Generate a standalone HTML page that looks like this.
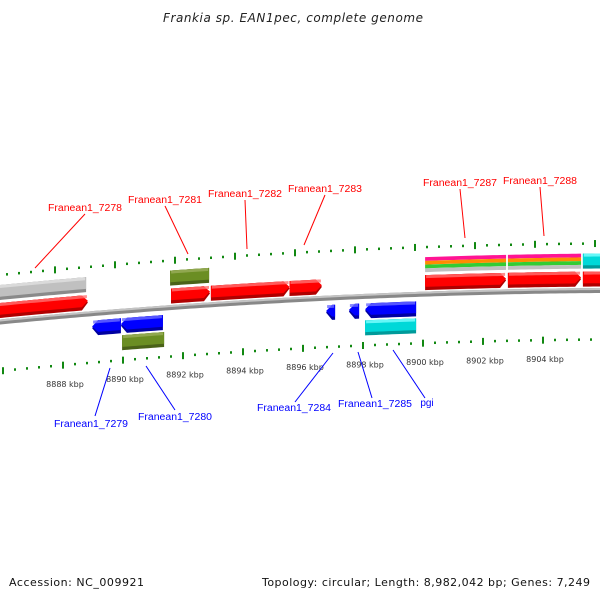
<!DOCTYPE html>
<html><head><meta charset="utf-8"><style>
html,body{margin:0;padding:0;background:#fff;}
svg{display:block;}
</style></head><body>
<svg id="chart" width="600" height="600" viewBox="0 0 600 600" xmlns="http://www.w3.org/2000/svg">
<defs>
<linearGradient id="gBack" x1="0" y1="0" x2="0" y2="1"><stop offset="0" stop-color="#c8c8c8"/><stop offset="0.5" stop-color="#999"/><stop offset="1" stop-color="#555"/></linearGradient>
</defs>
<text x="293" y="22" text-anchor="middle" font-family="DejaVu Sans, sans-serif" font-style="italic" font-size="12" fill="#222" textLength="260">Frankia sp. EAN1pec, complete genome</text>
<g id="ticks"></g>
<path id="backbone" fill="none" stroke="#888" stroke-width="5"/>
<path id="backbone-hi" fill="none" stroke="#c4c4c4" stroke-width="2"/>
<g id="genes"></g>
<g id="labels"></g>
<text x="9" y="586" font-family="DejaVu Sans, sans-serif" font-size="11" fill="#111" textLength="135">Accession: NC_009921</text>
<text x="262" y="586" font-family="DejaVu Sans, sans-serif" font-size="11" fill="#111" textLength="328">Topology: circular; Length: 8,982,042 bp; Genes: 7,249</text>
</svg>
<script>
// ---- data ----
const tickStart = 8886.0, tickEnd = 8906.4;
const majorEvery = 2, minorEvery = 0.4;
const majorLabels = [8888, 8890, 8892, 8894, 8896, 8898, 8900, 8902, 8904];
// gene features: start/end kbp, strand, track, color
const geneStarts = [8885.5, 8891.6, 8892.93, 8895.55, 8900.07, 8902.83, 8905.33, 8885.5, 8891.57, 8900.07, 8902.83, 8905.33, 8888.97, 8889.93, 8896.77, 8897.53, 8898.07, 8889.97, 8898.07];
const geneEnds   = [8888.83, 8892.9, 8895.55, 8896.63, 8902.77, 8905.27, 8906.8, 8888.77, 8892.87, 8902.77, 8905.27, 8906.8, 8889.93, 8891.33, 8897.07, 8897.87, 8899.77, 8891.37, 8899.77];
const geneStrand = [1,1,1,1,1,1,1, 0,0,0,0,0, -1,-1,-1,-1,-1, 0,0];
const geneTrack  = ['u1','u1','u1','u1','u1','u1','u1','u2','u2','u2','u2','u2','l1','l1','l1','l1','l1','l2','l2'];
const geneKind   = ['red','red','red','red','red','red','red','gray','olive','multi','multi','cyan','blue','blue','blue','blue','blue','olive','cyan'];
const labelNames = ['Franean1_7278','Franean1_7281','Franean1_7282','Franean1_7283','Franean1_7287','Franean1_7288','Franean1_7279','Franean1_7280','Franean1_7284','Franean1_7285','pgi'];
const labelColor = ['#f00','#f00','#f00','#f00','#f00','#f00','#00f','#00f','#00f','#00f','#00f'];
const labelX  = [85,165,245,325,460,540,91,175,294,375,427];
const labelY  = [211,203,197,192,186,184,427,420,411,407,406];
const lineX1  = [85,165,245,325,460,540,95,175,295,372,425];
const lineY1  = [214,206,200,195,189,187,416,410,402,398,398];
const lineX2  = [35,188,247,304,465,544,110,146,333,358,393];
const lineY2  = [268,254,249,245,238,236,368,366,353,352,350];

// ---- geometry ----
const NS = 'http://www.w3.org/2000/svg';
const xScale = k => 123 + (k - 8890) * 30;
const base = x => 322 - 0.0975 * x + 7.5e-5 * x * x;
const tracks = {u1:[-19,-4], u2:[-37,-22], l1:[7,22], l2:[24,39]};
const colors = {
  red:['#ff7070','#ff0000','#b00000'], gray:['#e0e0e0','#c0c0c0','#8a8a8a'],
  olive:['#9aae5a','#6b8e23','#4a6218'], blue:['#6a6aff','#0000ff','#0000a0'],
  cyan:['#80ffff','#00d8d8','#009a9a']
};
const svg = document.getElementById('chart');
function mk(tag, attrs, parent){ const e=document.createElementNS(NS,tag); for(const k in attrs) e.setAttribute(k,attrs[k]); parent.appendChild(e); return e; }

// backbone
let d=''; for(let x=-5;x<=605;x+=5){ d+=(x===-5?'M':'L')+x+','+base(x).toFixed(2)+' '; }
document.getElementById('backbone').setAttribute('d',d);
let d2=''; for(let x=-5;x<=605;x+=5){ d2+=(x===-5?'M':'L')+x+','+(base(x)-1.5).toFixed(2)+' '; }
document.getElementById('backbone-hi').setAttribute('d',d2);

// ticks
const tg = document.getElementById('ticks');
const nSteps = Math.round((tickEnd - tickStart)/minorEvery);
for(let i=0;i<=nSteps;i++){
  const k = +(tickStart + i*minorEvery).toFixed(2);
  const major = Math.abs(k/majorEvery - Math.round(k/majorEvery)) < 1e-6;
  [[0,49],[-8,-47]].forEach(([sh,off])=>{
    const x = xScale(k)+sh; const y = base(x)+off;
    const h = major?7:2.5;
    const r = mk('rect',{x:(x-1).toFixed(2),y:(y-h/2).toFixed(2),width:2,height:h,fill:'#118811'},tg);
    
    
  });
}
majorLabels.forEach(k=>{
  const x = xScale(k)+2; const y = base(x)+71;
  const t = mk('text',{x:x, y:y, 'text-anchor':'middle','font-family':'DejaVu Sans, sans-serif','font-size':'8',fill:'#333'},tg);
  t.textContent = k + ' kbp';
  
  
});

// genes
const gg = document.getElementById('genes');
function bandPath(x0,x1,o0,o1,strand){
  const tip = 6; const pts=[];
  const a = strand===-1 ? x0+tip : x0, b = strand===1 ? x1-tip : x1;
  for(let x=a; x<b; x+=4) pts.push([x, base(x)+o0]);
  pts.push([b, base(b)+o0]);
  if(strand===1) pts.push([x1, base(x1)+(o0+o1)/2]);
  for(let x=b; x>a; x-=4) pts.push([x, base(x)+o1]);
  pts.push([a, base(a)+o1]);
  if(strand===-1) pts.push([x0, base(x0)+(o0+o1)/2]);
  return pts.map(p=>p[0].toFixed(2)+','+p[1].toFixed(2)).join(' ');
}
for(let i=0;i<geneStarts.length;i++){
  const x0 = xScale(geneStarts[i]), x1 = xScale(geneEnds[i]);
  const [o0,o1] = tracks[geneTrack[i]];
  const s = geneStrand[i];
  const g = mk('g',{},gg);
  
  
  if(geneKind[i]==='multi'){
    const cols=['#ff1493','#ff8c00','#33cc33','#c0c0c0'];
    const h=(o1-o0)/4;
    cols.forEach((c,j)=>{
      const p = mk('polygon',{points:bandPath(x0,x1,o0+j*h,o0+(j+1)*h,0),fill:c},g);
      
      
    });
  } else {
    const c = colors[geneKind[i]];
    const h = o1-o0;
    const p1 = mk('polygon',{points:bandPath(x0,x1,o0,o1,s),fill:c[2]},g);
    
    
    const p2 = mk('polygon',{points:bandPath(x0,x1,o0,o1-h*0.22,s),fill:c[1]},g);
    
    
    const p3 = mk('polygon',{points:bandPath(x0+1,x1-1,o0,o0+h*0.2,0),fill:c[0],opacity:0.8},g);
    
    
  }
}

// labels
const lg = document.getElementById('labels');
for(let i=0;i<labelNames.length;i++){
  const l = mk('line',{x1:lineX1[i],y1:lineY1[i],x2:lineX2[i],y2:lineY2[i],stroke:labelColor[i],'stroke-width':1},lg);
  
  
  const attrs = {x:labelX[i],y:labelY[i],'text-anchor':'middle','font-family':'Liberation Sans, sans-serif','font-size':'10',fill:labelColor[i]};
  if(labelNames[i].length>5){ attrs.textLength=74; attrs.lengthAdjust='spacingAndGlyphs'; }
  const t = mk('text',attrs,lg);
  t.textContent = labelNames[i];
  
  
}
</script>
</body></html>
